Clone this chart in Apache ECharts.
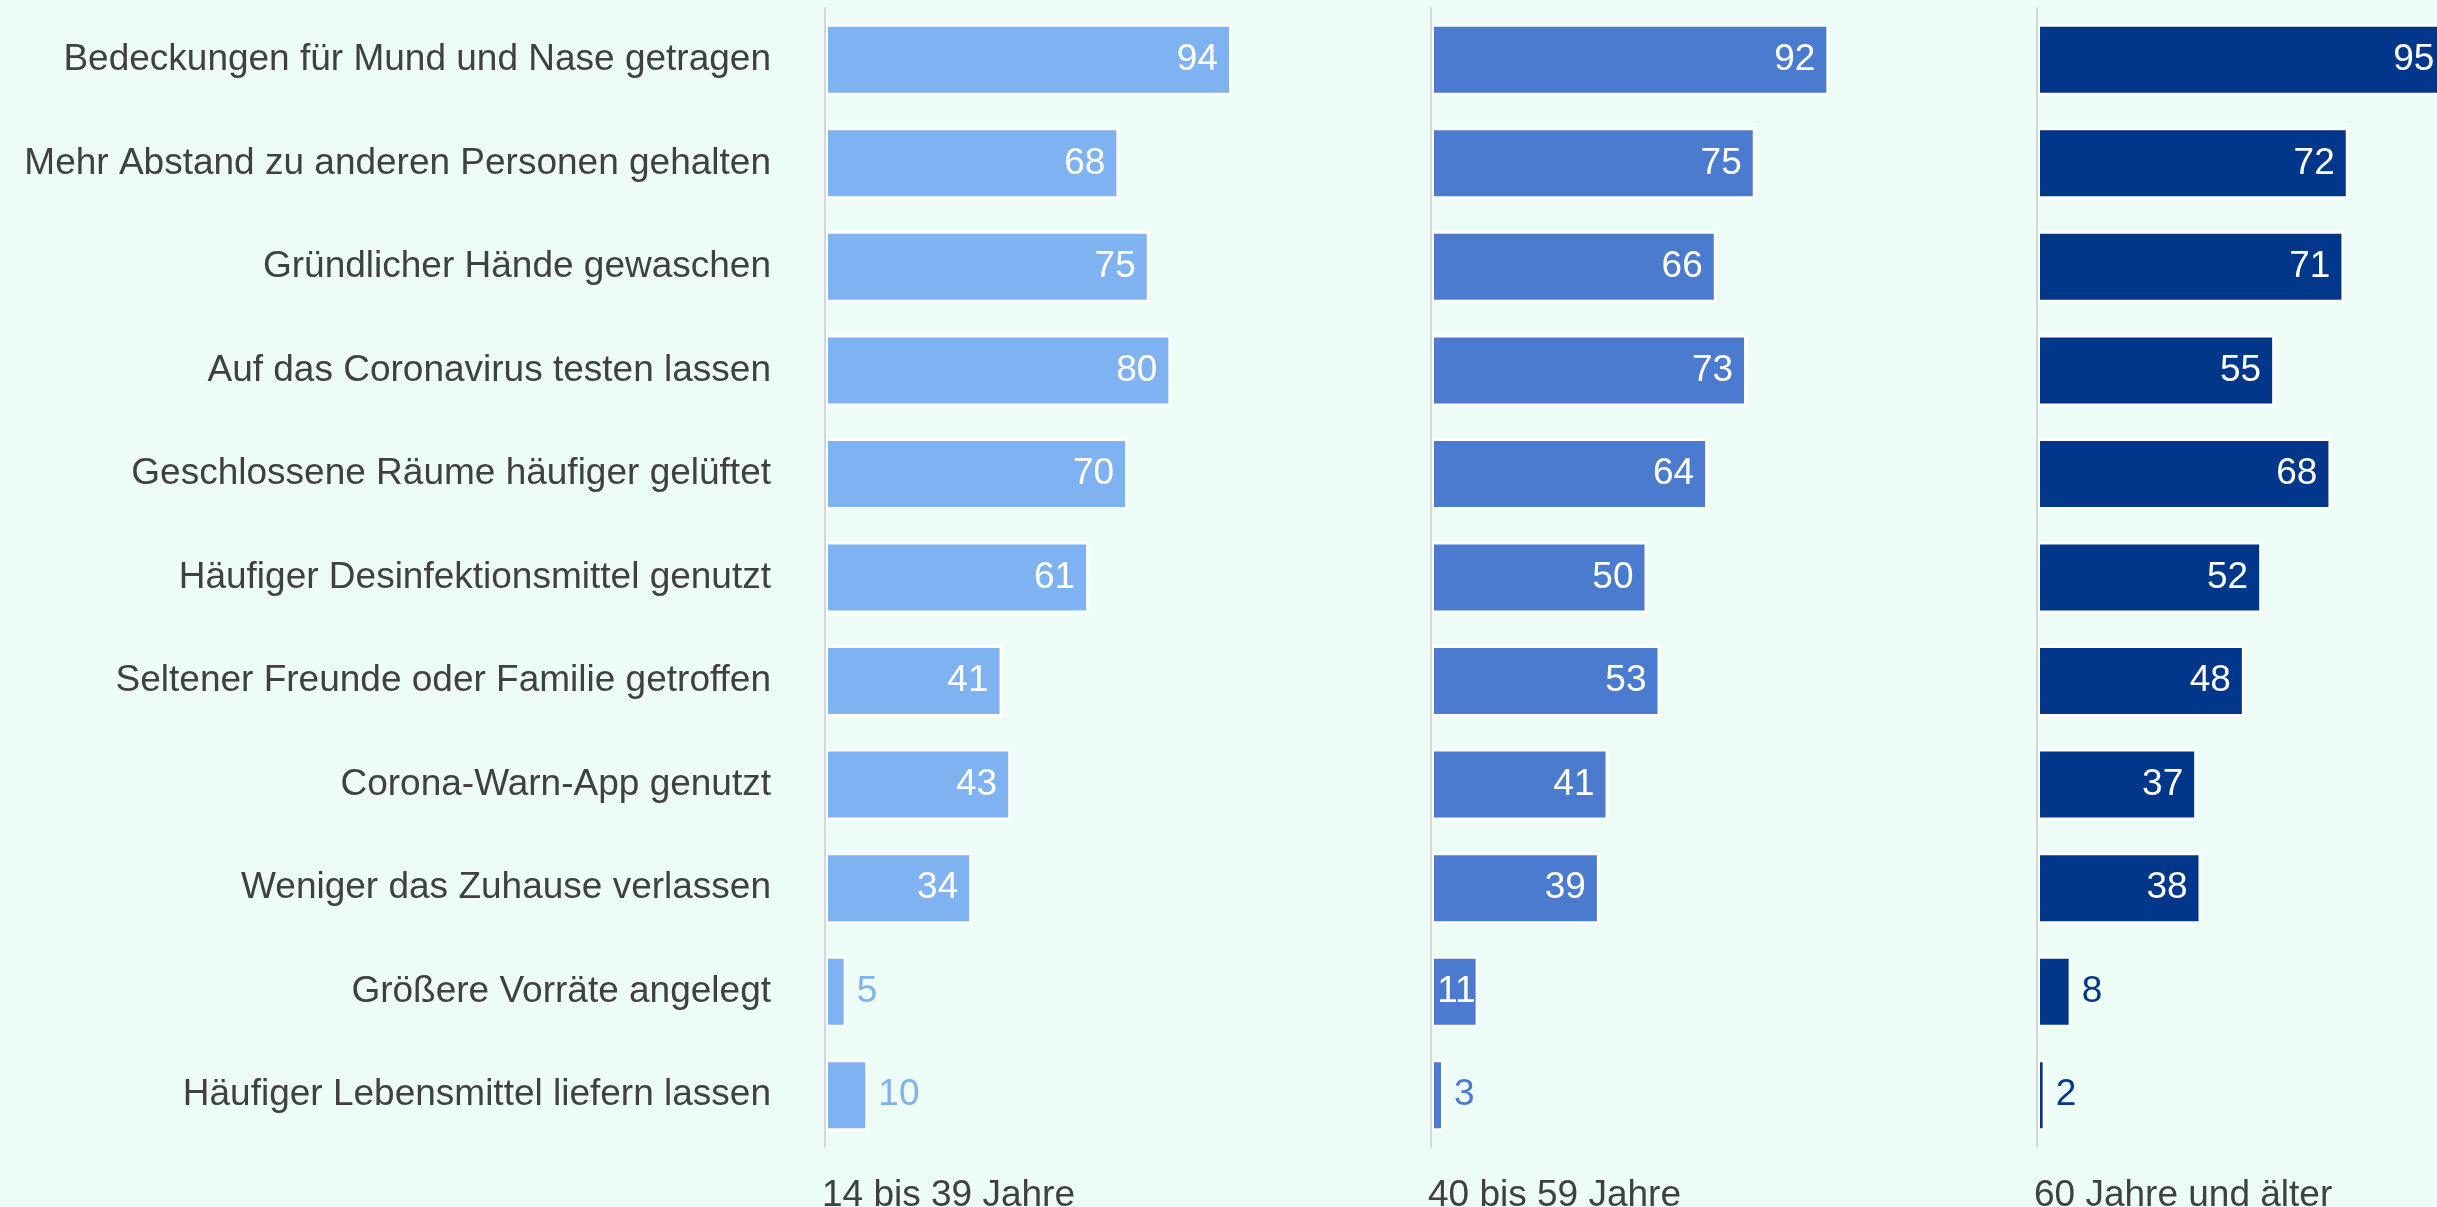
<!DOCTYPE html>
<html>
<head>
<meta charset="utf-8">
<script src="https://cdn.jsdelivr.net/npm/echarts@6/dist/echarts.min.js"></script>
<style>
  html, body { margin: 0; padding: 0; background: #eefcf7; }
  #chart { width: 2437px; height: 1207px; }
</style>
</head>
<body>
<div id="chart"></div>
<script>
const categories = [
  'Bedeckungen für Mund und Nase getragen',
  'Mehr Abstand zu anderen Personen gehalten',
  'Gründlicher Hände gewaschen',
  'Auf das Coronavirus testen lassen',
  'Geschlossene Räume häufiger gelüftet',
  'Häufiger Desinfektionsmittel genutzt',
  'Seltener Freunde oder Familie getroffen',
  'Corona-Warn-App genutzt',
  'Weniger das Zuhause verlassen',
  'Größere Vorräte angelegt',
  'Häufiger Lebensmittel liefern lassen'
]
const groups = ['14 bis 39 Jahre', '40 bis 59 Jahre', '60 Jahre und älter']
const age14to39 = [94, 68, 75, 80, 70, 61, 41, 43, 34, 5, 10]
const age40to59 = [92, 75, 66, 73, 64, 50, 53, 41, 39, 11, 3]
const age60plus = [95, 72, 71, 55, 68, 52, 48, 37, 38, 8, 2]

const seriesData = [age14to39, age40to59, age60plus]
const colors = ['#7fb2f1', '#4b7bcf', '#00378a']
const font = 'Liberation Sans, Arial, sans-serif'
const panelLeft = [825, 1431, 2037]
const pxPerUnit = 4.33
// letzter Block läuft über den rechten Rand hinaus
const panelWidth = [600, 600, 400]

const chart = echarts.init(document.getElementById('chart'))

let grids = [], xAxes = [], yAxes = [], series = [], titles = []
panelLeft.forEach((left, i) => {
  grids.push({ left: left, top: 8, width: panelWidth[i], height: 1139 })
  xAxes.push({
    type: 'value', gridIndex: i, min: 0, max: panelWidth[i] / pxPerUnit, show: false,
    splitLine: { show: false }
  })
  yAxes.push({
    type: 'category', gridIndex: i, data: categories, inverse: true, z: 3,
    axisLine: { show: true, lineStyle: { color: '#d6d6d6', width: 2 } },
    axisTick: { show: false },
    axisLabel: {
      show: i === 0, margin: 54, color: '#404040',
      fontSize: 37, fontFamily: font
    }
  })
  titles.push({
    text: groups[i], left: left - 3, top: 1177, padding: 0,
    textStyle: { color: '#404040', fontSize: 37, fontWeight: 'normal', fontFamily: font }
  })
  series.push({
    type: 'bar', xAxisIndex: i, yAxisIndex: i,
    barWidth: 72, clip: false,
    itemStyle: { color: colors[i], borderColor: '#ffffff', borderWidth: 3 },
    label: { show: true, fontSize: 37, fontFamily: font },
    data: seriesData[i].map(v => ({
      value: v,
      // kleine Balken: Zahl rechts daneben in Balkenfarbe
      label: v > 10
        ? { position: 'insideRight', distance: v < 20 ? 3 : 14, color: '#ffffff' }
        : { position: 'right', distance: 10, color: colors[i] }
    }))
  })
})

chart.setOption({
  backgroundColor: '#eefcf7',
  animation: false,
  title: titles,
  grid: grids,
  xAxis: xAxes,
  yAxis: yAxes,
  series: series
})
</script>
</body>
</html>
